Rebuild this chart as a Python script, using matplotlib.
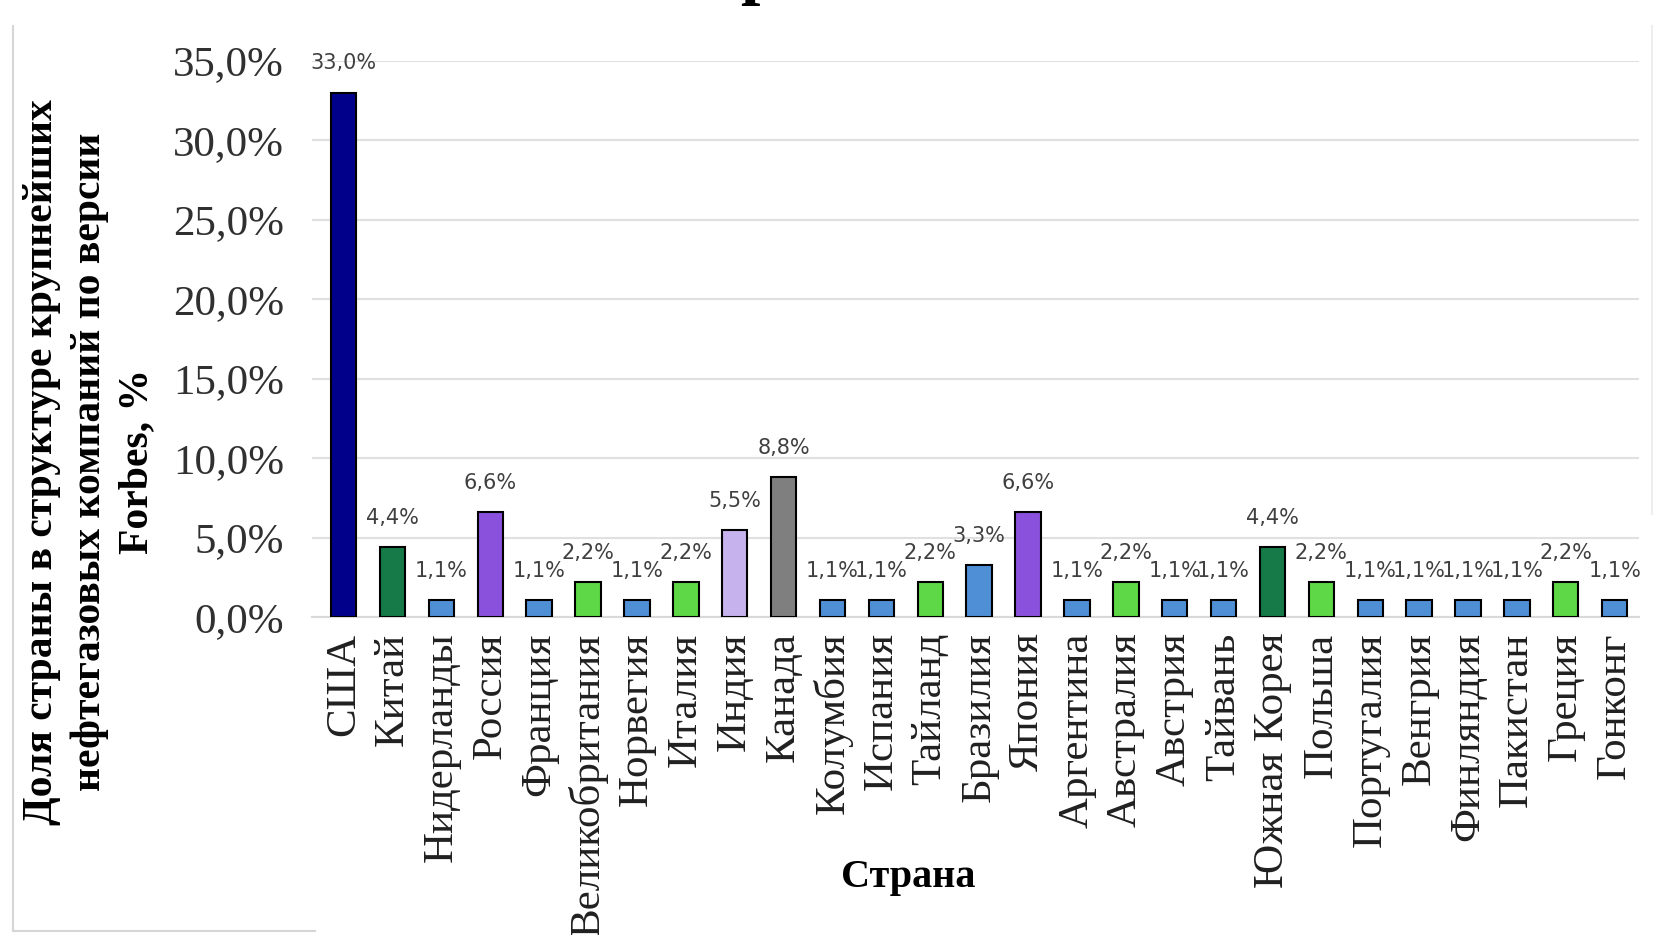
import numpy as np
import matplotlib.pyplot as plt
from matplotlib.lines import Line2D

countries = ["США", "Китай", "Нидерланды", "Россия", "Франция", "Великобритания",
             "Норвегия", "Италия", "Индия", "Канада", "Колумбия", "Испания",
             "Тайланд", "Бразилия", "Япония", "Аргентина", "Австралия", "Австрия",
             "Тайвань", "Южная Корея", "Польша", "Португалия", "Венгрия",
             "Финляндия", "Пакистан", "Греция", "Гонконг"]
shares = [33.0, 4.4, 1.1, 6.6, 1.1, 2.2, 1.1, 2.2, 5.5, 8.8, 1.1, 1.1, 2.2, 3.3,
          6.6, 1.1, 2.2, 1.1, 1.1, 4.4, 2.2, 1.1, 1.1, 1.1, 1.1, 2.2, 1.1]
groups = ["navy", "dgreen", "blue", "purple", "blue", "green", "blue", "green",
          "lavender", "gray", "blue", "blue", "green", "blue", "purple", "blue",
          "green", "blue", "blue", "dgreen", "green", "blue", "blue", "blue",
          "blue", "green", "blue"]
yticks = [0, 5, 10, 15, 20, 25, 30, 35]

palette = {"navy": "#00008b", "dgreen": "#167a48", "blue": "#4f8fd6",
           "purple": "#8a52dc", "green": "#5fd847", "lavender": "#c6b2ec",
           "gray": "#7f7f7f"}

serif = ["Liberation Serif", "DejaVu Serif"]

fig = plt.figure(figsize=(16.59, 9.35), dpi=100)
ax = fig.add_axes([0.188, 0.340, 0.800, 0.595])

x = np.arange(len(countries))
ax.bar(x, shares, width=0.52, color=[palette[g] for g in groups],
       edgecolor="black", linewidth=1.5, zorder=3)

for xi, v in zip(x, shares):
    ax.text(xi, v + 1.2, f"{v:.1f}%".replace(".", ","), ha="center", va="bottom",
            fontsize=15, color="#404040", family=["DejaVu Sans Condensed", "DejaVu Sans"])

ax.set_xlim(-0.65, 26.5)
ax.set_ylim(0, 35)
ax.set_yticks(yticks)
ax.set_yticklabels([f"{t:.1f}%".replace(".", ",") for t in yticks],
                   fontsize=31, family=serif, color="#303030")
ax.set_xticks(x)
ax.set_xticklabels(countries, rotation=90, fontsize=31, family=serif, color="#202020")
ax.tick_params(axis="both", length=0)
ax.tick_params(axis="y", pad=20)
ax.tick_params(axis="x", pad=11)

ax.grid(axis="y", color="#e0e0e0", linewidth=1.5, zorder=0)
for s in ["top", "right", "left"]:
    ax.spines[s].set_visible(False)
ax.spines["bottom"].set_color("#d9d9d9")
ax.spines["bottom"].set_linewidth(1.5)

ax.set_xlabel("Страна", fontsize=29, fontweight="bold", family=serif)
ax.xaxis.set_label_coords((908 / 1659 - 0.188) / 0.800, (1 - 859 / 935 - 0.340) / 0.595)

ylab = "Доля страны в структуре крупнейших\nнефтегазовых компаний по версии\nForbes, %"
fig.text(0.054, 0.506, ylab, rotation=90, ha="center", va="center", fontsize=30,
         fontweight="bold", family=serif, linespacing=1.32, multialignment="center")

# cut-off title fragment at top edge
fig.text(0.458, 1.01, "р", ha="center", va="baseline", fontsize=50,
         fontweight="bold", family=serif)

# faint frame fragments of the chart area
frame = "#d6d6d6"
fig.add_artist(Line2D([0.008, 0.008], [0.004, 0.972], color=frame, lw=1.5))
fig.add_artist(Line2D([0.008, 0.19], [0.004, 0.004], color=frame, lw=1.5))
fig.add_artist(Line2D([0.996, 0.996], [0.45, 0.972], color="#eeeeee", lw=1.5))

fig.savefig("out.png", dpi=100, facecolor="white")
